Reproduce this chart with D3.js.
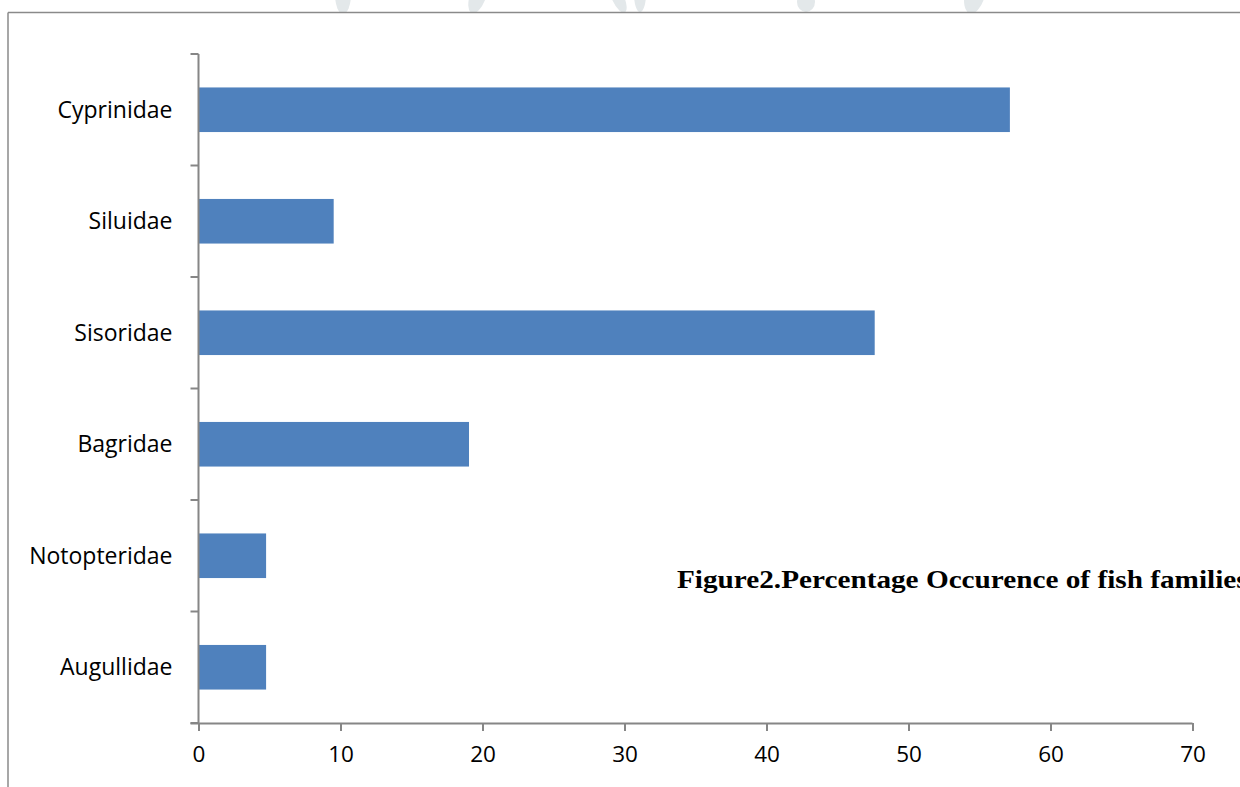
<!DOCTYPE html>
<html>
<head>
<meta charset="utf-8">
<script src="https://cdn.jsdelivr.net/npm/d3@7"></script>
<style>
  html, body { margin: 0; padding: 0; background: #ffffff; overflow: hidden; }
  svg { display: block; }
</style>
</head>
<body>
<svg id="chart" width="1240" height="787"></svg>
<script>
// ---- data ----
const categories = ["Cyprinidae", "Siluidae", "Sisoridae", "Bagridae", "Notopteridae", "Augullidae"];
const values = [57.14, 9.52, 47.62, 19.05, 4.76, 4.76];
const xTicks = [0, 10, 20, 30, 40, 50, 60, 70];
const titleText = "Figure2.Percentage Occurence of fish families";

// ---- layout ----
const W = 1240, H = 787;
const plot = { left: 198.5, right: 1192.5, top: 54, bottom: 723 };
const axisColor = "#868686";
const barColor = "#4F81BD";

const svg = d3.select("#chart");

// faint watermark shapes at the top (clipped above the frame line)
svg.append("clipPath").attr("id", "wm").append("rect")
  .attr("x", 0).attr("y", 0).attr("width", W).attr("height", 12);
const wm = svg.append("g").attr("clip-path", "url(#wm)").attr("fill", "#e3e8ea");
wm.append("ellipse").attr("cx", 343).attr("cy", -6).attr("rx", 8).attr("ry", 20);
wm.append("ellipse").attr("cx", 478).attr("cy", -4).attr("rx", 8).attr("ry", 18).attr("transform", "rotate(20,478,-4)");
wm.append("ellipse").attr("cx", 618).attr("cy", -2).attr("rx", 6).attr("ry", 16).attr("transform", "rotate(-25,618,-2)");
wm.append("ellipse").attr("cx", 640).attr("cy", -6).attr("rx", 6).attr("ry", 18);
wm.append("ellipse").attr("cx", 806).attr("cy", 2).attr("rx", 9).attr("ry", 10);
wm.append("ellipse").attr("cx", 975).attr("cy", -6).attr("rx", 10).attr("ry", 20).attr("transform", "rotate(15,975,-6)");

// outer frame (top and left lines)
svg.append("line").attr("x1", 8).attr("x2", W).attr("y1", 12.5).attr("y2", 12.5)
  .attr("stroke", "#8a8a8a").attr("stroke-width", 1.5);
svg.append("line").attr("x1", 8).attr("x2", 8).attr("y1", 12.5).attr("y2", H)
  .attr("stroke", "#8a8a8a").attr("stroke-width", 1.5);

// scales
const x = d3.scaleLinear().domain([0, 70]).range([plot.left, plot.right]);
const y = d3.scaleBand().domain(categories).range([plot.top, plot.bottom])
  .paddingInner(0.6).paddingOuter(0.3);
const yEdges = d3.scaleBand().domain(categories).range([plot.top, plot.bottom]);

// bars
svg.append("g").selectAll("rect").data(categories).join("rect")
  .attr("x", x(0))
  .attr("y", d => y(d))
  .attr("width", (d, i) => x(values[i]) - x(0))
  .attr("height", y.bandwidth())
  .attr("fill", barColor);

// x axis
const xAxis = d3.axisBottom(x).tickValues(xTicks).tickSize(8).tickPadding(15).tickSizeOuter(0);
const gx = svg.append("g").attr("transform", `translate(0,${plot.bottom})`).call(xAxis);
gx.select(".domain").attr("stroke", axisColor).attr("stroke-width", 2)
  .attr("d", `M${plot.left - 8},0.5H${plot.right}`);
gx.selectAll(".tick line").attr("stroke", axisColor).attr("stroke-width", 2);
gx.selectAll(".tick text").attr("fill", "#000").attr("font-family", "'Open Sans', sans-serif")
  .attr("font-size", 22.5).attr("dy", "0.71em");

// y axis: ticks at band boundaries
const gy = svg.append("g");
gy.append("line").attr("x1", plot.left).attr("x2", plot.left)
  .attr("y1", plot.top).attr("y2", plot.bottom)
  .attr("stroke", axisColor).attr("stroke-width", 2);
const boundaries = categories.map(c => yEdges(c)).concat([plot.bottom]);
gy.selectAll("line.tk").data(boundaries).join("line").attr("class", "tk")
  .attr("x1", plot.left - 8).attr("x2", plot.left)
  .attr("y1", d => d).attr("y2", d => d)
  .attr("stroke", axisColor).attr("stroke-width", 2);
gy.selectAll("text").data(categories).join("text")
  .attr("x", plot.left - 26)
  .attr("y", d => yEdges(d) + yEdges.bandwidth() / 2)
  .attr("dy", "0.35em")
  .attr("text-anchor", "end")
  .attr("font-family", "'Open Sans', sans-serif")
  .attr("font-size", 23)
  .attr("fill", "#000")
  .text(d => d);

// title (runs off the right edge as in the reference)
svg.append("text")
  .attr("transform", "translate(677,588) scale(1.17,1)")
  .attr("font-family", "'Liberation Serif', 'Times New Roman', serif")
  .attr("font-weight", "bold")
  .attr("font-size", 25)
  .attr("fill", "#000")
  .text(titleText);
</script>
</body>
</html>
